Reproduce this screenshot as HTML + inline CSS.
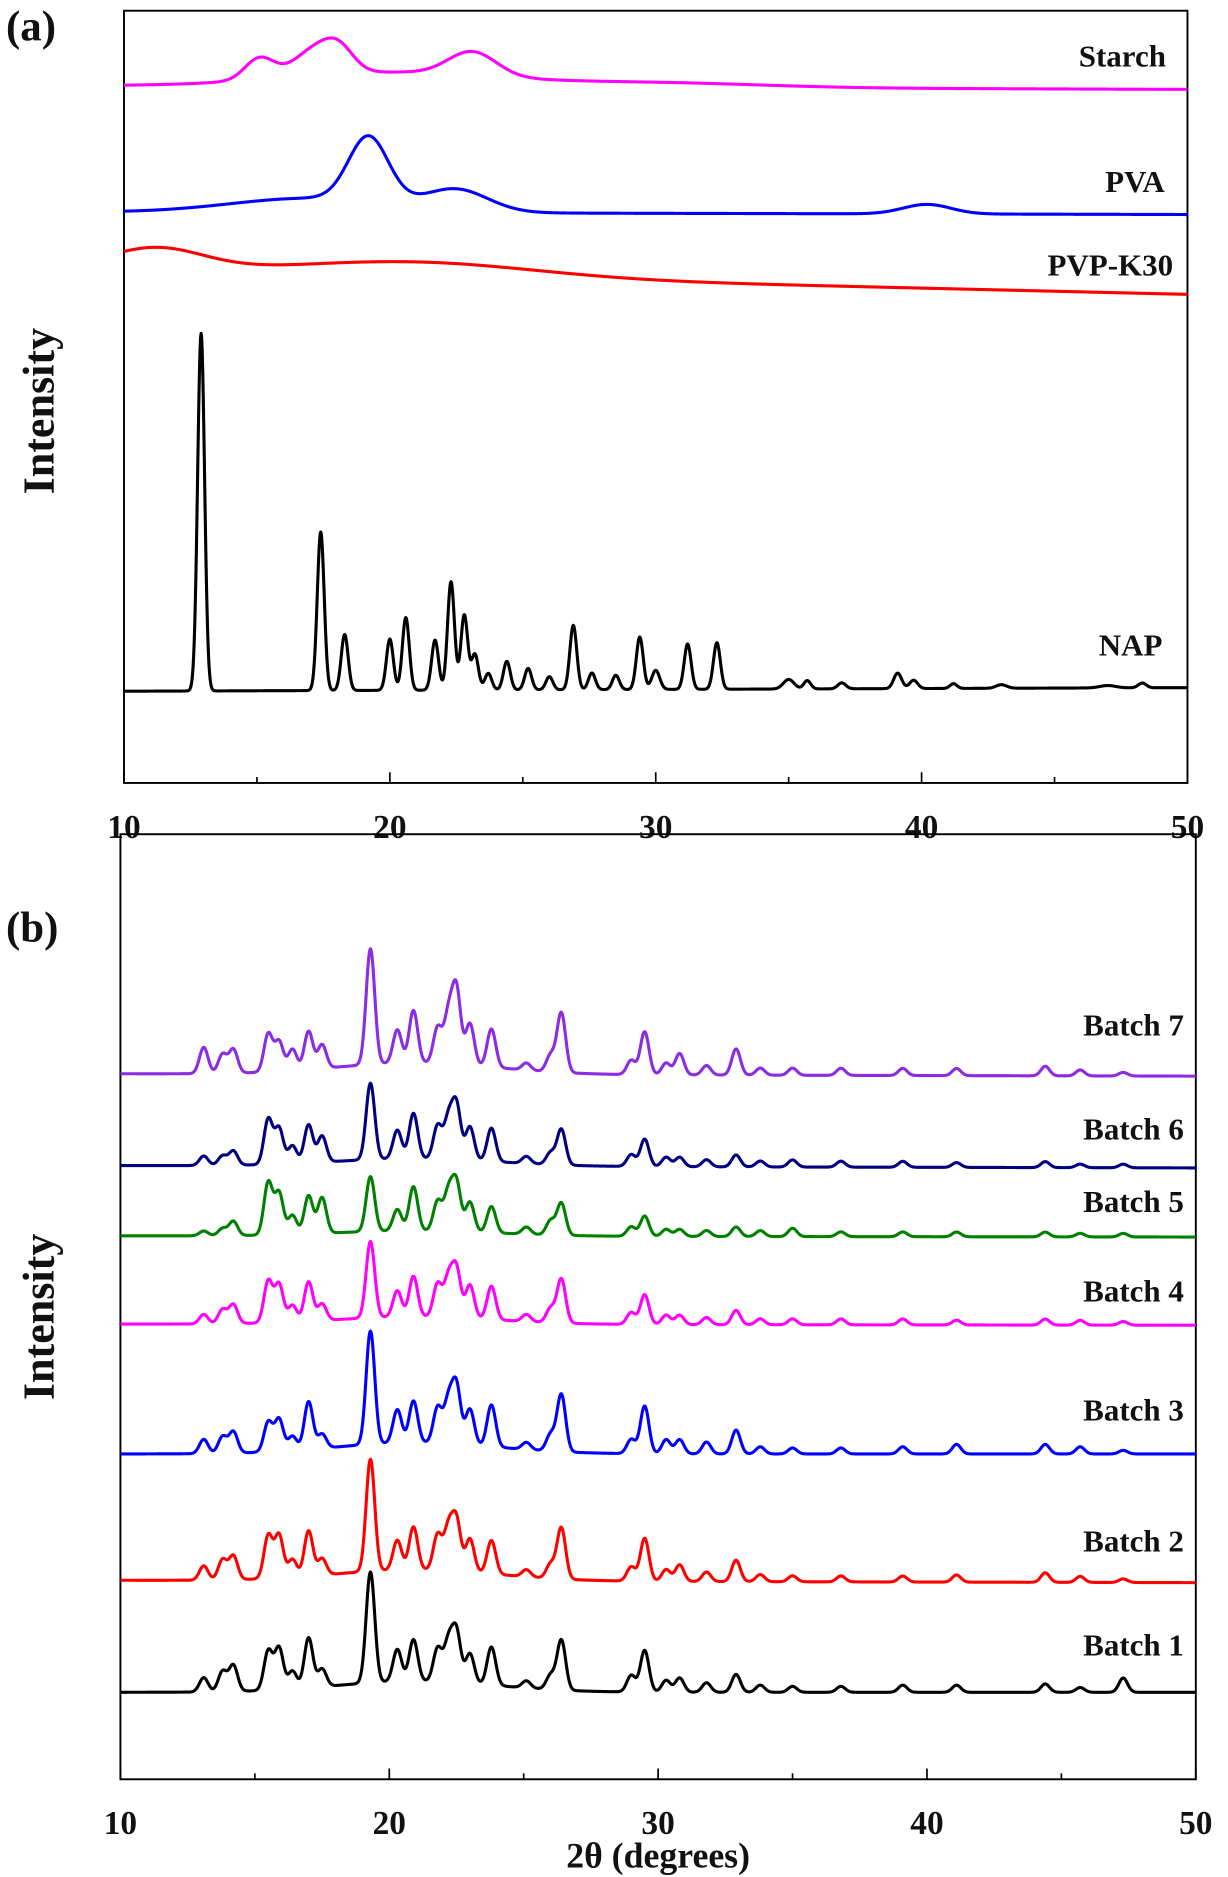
<!DOCTYPE html>
<html><head><meta charset="utf-8"><style>html,body{margin:0;padding:0;background:#fff}svg{display:block}text{font-family:"Liberation Serif",serif;font-weight:bold;fill:#111}</style></head>
<body>
<svg id="fig" width="1228" height="1877" viewBox="0 0 1030 1575" preserveAspectRatio="none" xmlns="http://www.w3.org/2000/svg">
<g id="pa"></g>
<g id="pb"></g>
<text x="5" y="34" font-size="36">(a)</text>
<text x="5" y="790" font-size="36">(b)</text>
<text transform="translate(45,345) rotate(-90)" text-anchor="middle" font-size="37">Intensity</text>
<text transform="translate(45,1105) rotate(-90)" text-anchor="middle" font-size="37">Intensity</text>
<text x="552" y="1567" text-anchor="middle" font-size="30">2θ (degrees)</text>
</svg>
<script>
// ---- Panel (a) data: peaks [2theta, height, sigma]
const starchPeaks = [[15.1,18,0.55],[17.2,22,0.8],[18.1,16,0.55],[20,12,4],[23.1,20,0.9],[30,4,4]];
const pvaPeaks = [[19.2,55,0.75],[17,12,3],[22.5,18,1.2],[40.2,8,0.9]];
const pvpPeaks = [[11.2,18,1.8],[21,12,4.5]];
const napPeaks = [[12.9,300,0.13],[17.4,133,0.13],[18.3,47,0.13],[20.0,43,0.13],[20.6,61,0.13],[21.7,42,0.13],[22.3,91,0.13],[22.8,63,0.13],[23.2,30,0.13],[23.7,14,0.13],[24.4,24,0.13],[25.2,18,0.13],[26.0,11,0.13],[26.9,54,0.13],[27.6,14,0.13],[28.5,12,0.13],[29.4,44,0.13],[30.0,16,0.15],[31.2,38,0.13],[32.3,39,0.13],[35.0,8,0.2],[35.7,7,0.13],[37.0,5,0.15],[39.1,13,0.15],[39.7,7,0.15],[41.2,4,0.13],[43.0,3,0.2],[47,2,0.3],[48.3,4,0.15]];
// baselines [left,right] (intensity offsets)
const baseA = {Starch:[72,75],PVA:[178,180],PVP:[226,247],NAP:[580,577]};

// ---- Panel (b) data
const bPos = [13.1,13.8,14.2,15.5,15.9,16.4,17.0,17.5,19.3,20.3,20.9,21.8,22.2,22.5,23.0,23.8,25.1,26.0,26.4,29.0,29.5,30.3,30.8,31.8,32.9,33.8,35.0,36.8,39.1,41.1,44.4,45.7,47.3];
const batch1 = [12,17,22,33,35,15,42,15,93,27,35,28,33,42,25,32,6,12,42,14,35,10,12,8,15,6,5,5,6,6,7,4,12];
const batch2 = [12,17,20,36,36,15,38,14,94,25,36,30,35,42,28,28,6,12,43,12,36,10,14,8,18,6,5,5,5,6,8,5,3];
const batch3 = [12,14,18,25,27,12,40,12,95,28,35,30,35,48,30,35,6,14,48,12,40,12,12,10,20,6,5,5,6,8,8,6,3];
const batch4 = [8,12,16,35,32,14,33,14,64,22,34,28,32,40,28,28,6,12,37,10,25,8,8,6,12,5,5,5,5,4,5,4,3];
const batch5 = [4,6,12,44,35,16,32,30,46,18,37,25,32,40,25,22,6,12,27,8,17,6,6,5,8,5,7,4,4,4,4,3,3];
const batch6 = [8,8,12,38,30,15,32,22,64,24,38,28,33,45,28,28,6,10,30,10,23,8,8,6,10,5,6,5,5,4,5,3,3];
const batch7 = [22,16,20,32,25,18,32,20,97,28,44,30,40,62,35,32,6,14,50,12,36,10,18,8,22,6,6,6,6,6,8,5,3];
const batchBase = [[1420,1420],[1326,1328],[1220,1220],[1111,1112],[1037,1038],[978,980],[901,903]];
const batchColors = ['#000000','#ff0000','#0000ff','#ff00ff','#008000','#000080','#8b2be2'];
const batchNames = ['Batch 1','Batch 2','Batch 3','Batch 4','Batch 5','Batch 6','Batch 7'];
const ticks = [10,20,30,40,50];

const NS='http://www.w3.org/2000/svg';
function mk(tag,parent,attrs){const e=document.createElementNS(NS,tag);for(const k in attrs)e.setAttribute(k,attrs[k]);parent.appendChild(e);return e;}

function axes(g,L,R,T,B,tag){
  const x=v=>L+(v-10)/40*(R-L);
  const f=mk('rect',g,{x:L,y:T,width:R-L,height:B-T,fill:'none',stroke:'#000','stroke-width':1.6});
  
  
  for(let v=10;v<=50;v+=5){
    const len=(v%10===0)?9:5;
    const t=mk('line',g,{x1:x(v),x2:x(v),y1:B,y2:B-len,stroke:'#000','stroke-width':1.4});
    
    
  }
  ticks.forEach(v=>{
    const t=mk('text',g,{x:x(v),y:B+46,'text-anchor':'middle','font-size':28});
    t.textContent=v;
    
    
  });
  return x;
}
function curve(g,x,peaks,base,color,name){
  let d='';
  for(let t=10;t<=50.0001;t+=0.02){
    let b=base[0]+(base[1]-base[0])*(t-10)/40, s=0;
    peaks.forEach(p=>{const z=(t-p[0])/p[2];s+=p[1]*Math.exp(-0.5*z*z);});
    d+=(d?'L':'M')+x(t).toFixed(2)+','+(b-s).toFixed(2);
  }
  const p=mk('path',g,{d:d,fill:'none',stroke:color,'stroke-width':2.6,'stroke-linejoin':'round'});
  
  
}
function label(g,txt,xr,y,name){
  const t=mk('text',g,{x:xr,y:y+9,'text-anchor':'end','font-size':26});
  t.textContent=txt;
  
  
}
// panel a
const ga=document.getElementById('pa');
const xa=axes(ga,104,996,9,657,'a');
curve(ga,xa,starchPeaks,baseA.Starch,'#ff00ff','starch-curve');
curve(ga,xa,pvaPeaks,baseA.PVA,'#0000ff','pva-curve');
curve(ga,xa,pvpPeaks,baseA.PVP,'#ff0000','pvp-k30-curve');
curve(ga,xa,napPeaks,baseA.NAP,'#000000','nap-curve');
label(ga,'Starch',978,47,'starch-label');
label(ga,'PVA',977,152,'pva-label');
label(ga,'PVP-K30',984,222,'pvp-k30-label');
label(ga,'NAP',975,541,'nap-label');
// panel b
const gb=document.getElementById('pb');
const xb=axes(gb,101,1003,700,1493,'b');
const batches=[batch1,batch2,batch3,batch4,batch5,batch6,batch7];
const labY=[1380,1293,1183,1083,1008,947,860];
batches.forEach((h,i)=>{
  const pk=bPos.map((p,j)=>[p,h[j],0.16]);
  pk.push([21,h[8]*0.1,3]);
  curve(gb,xb,pk,batchBase[i],batchColors[i],'batch-'+(i+1)+'-curve');
  label(gb,batchNames[i],993,labY[i],'batch-'+(i+1)+'-label');
});
</script>
</body></html>
